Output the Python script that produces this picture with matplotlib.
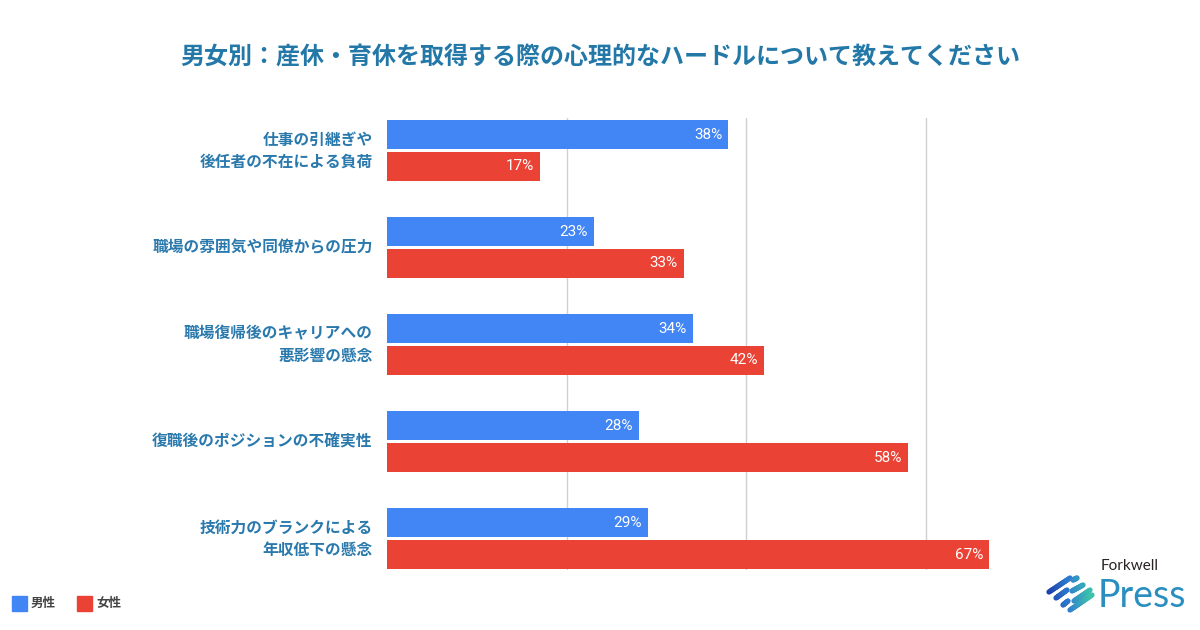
import matplotlib
matplotlib.use("Agg")
import matplotlib.pyplot as plt
import numpy as np
from matplotlib.lines import Line2D
from matplotlib.patches import Rectangle

plt.rcParams['font.family'] = ['Noto Sans CJK JP', 'DejaVu Sans']

categories = [
    "仕事の引継ぎや\n後任者の不在による負荷",
    "職場の雰囲気や同僚からの圧力",
    "職場復帰後のキャリアへの\n悪影響の懸念",
    "復職後のポジションの不確実性",
    "技術力のブランクによる\n年収低下の懸念",
]
male = [38, 23, 34, 28, 29]
female = [17, 33, 42, 58, 67]
series_names = ["男性", "女性"]
title = "男女別：産休・育休を取得する際の心理的なハードルについて教えてください"

BLUE = "#4285F4"
RED = "#EA4335"
TITLE_C = "#2378a8"
LABEL_C = "#2a79ad"

W, H = 1200, 630
fig = plt.figure(figsize=(12, 6.3), dpi=100)
fig.patch.set_facecolor("white")

# axes in pixel coordinates
x0, x1 = 387, 1016
y_top, y_bot = 118, 570
ax = fig.add_axes([x0 / W, 1 - y_bot / H, (x1 - x0) / W, (y_bot - y_top) / H])

n = len(categories)
pos = np.arange(n)
bh = 0.298
off = 0.163
ax.barh(pos - off, male, height=bh, color=BLUE, zorder=3)
ax.barh(pos + off, female, height=bh, color=RED, zorder=3)

ax.set_xlim(0, 70)
ax.set_ylim(n - 1 + 0.322, -0.335)
ax.set_xticks([20, 40, 60])
ax.xaxis.grid(True, color="#d0d0d0", linewidth=1, zorder=0)
ax.set_yticks([])
ax.tick_params(axis='x', length=0, labelbottom=False)
for s in ax.spines.values():
    s.set_visible(False)

for i in range(n):
    ax.text(male[i] - 0.65, pos[i] - off, f"{male[i]}%", ha="right", va="center",
            color="white", fontsize=11, family=['Roboto', 'DejaVu Sans'], zorder=4)
    ax.text(female[i] - 0.65, pos[i] + off, f"{female[i]}%", ha="right", va="center",
            color="white", fontsize=11, family=['Roboto', 'DejaVu Sans'], zorder=4)
    ax.text(-1.6, pos[i], categories[i], ha="right", va="center", color=LABEL_C,
            fontsize=11.3, fontweight="bold", linespacing=1.45, multialignment="right")

fig.text(600 / W, 1 - 58 / H, title, ha="center", va="center", color=TITLE_C,
         fontsize=17.3, fontweight="bold")

# legend
for (sx, tx, c, name) in [(12, 31, BLUE, series_names[0]), (77, 96, RED, series_names[1])]:
    fig.add_artist(Rectangle((sx / W, 1 - 611 / H), 15 / W, 15 / H,
                             transform=fig.transFigure, color=c))
    fig.text(tx / W, 1 - 603.5 / H, name, ha="left", va="center", color="#444444",
             fontsize=9, fontweight="bold")

# logo
fig.text(1101 / W, 1 - 566 / H, "Forkwell", ha="left", va="center", color="#2a2222",
         fontsize=11, family=['Lato', 'DejaVu Sans'])
fig.text(1098 / W, 1 - 596 / H, "Press", ha="left", va="center", color="#2a8fc0",
         fontsize=27, family=['Lato', 'DejaVu Sans'])

cmap = matplotlib.colors.LinearSegmentedColormap.from_list("lg", ["#1a3aa8", "#2f7fd0", "#3cc8a8"])
strokes = [
    ((1049, 592), (1070, 578)),
    ((1073, 580), (1077, 578)),
    ((1056, 598), (1067, 590)),
    ((1072, 591), (1083, 585)),
    ((1063, 605), (1068, 601)),
    ((1074, 601), (1090, 590)),
    ((1070, 610), (1092, 595)),
]
for (p, q) in strokes:
    segs = 12
    xs = np.linspace(p[0], q[0], segs + 1)
    ys = np.linspace(p[1], q[1], segs + 1)
    for k in range(segs):
        t = ((xs[k] + xs[k + 1]) / 2 - 1048) / 45
        fig.add_artist(Line2D([xs[k] / W, xs[k + 1] / W], [1 - ys[k] / H, 1 - ys[k + 1] / H],
                              transform=fig.transFigure, color=cmap(np.clip(t, 0, 1)),
                              linewidth=3.8, solid_capstyle="round"))

fig.savefig("out.png", dpi=100, facecolor="white")
